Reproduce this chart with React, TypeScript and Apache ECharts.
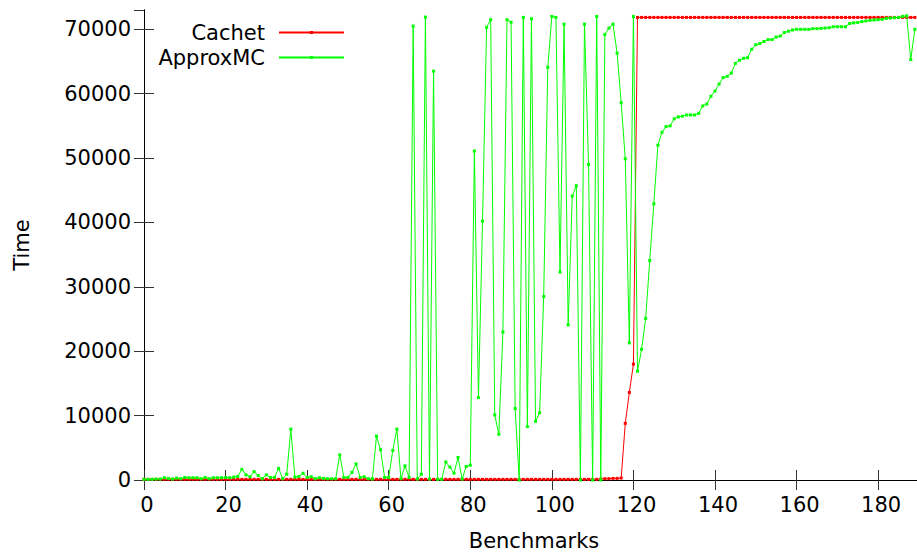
import React, { useEffect, useRef } from "react";
import * as echarts from "echarts";

const seriesNames = ["Cachet", "ApproxMC"];
const xTicks = [0, 20, 40, 60, 80, 100, 120, 140, 160, 180];
const yTicks = [0, 10000, 20000, 30000, 40000, 50000, 60000, 70000];

const cachet = [
  100, 100, 100, 100, 100, 100, 100, 100, 100, 100,
  100, 100, 100, 100, 100, 100, 100, 100, 100, 100,
  100, 100, 100, 100, 100, 100, 100, 100, 100, 100,
  100, 100, 100, 100, 100, 100, 100, 100, 100, 100,
  100, 100, 100, 100, 100, 100, 100, 100, 100, 100,
  100, 100, 100, 100, 100, 100, 100, 100, 100, 100,
  100, 100, 100, 100, 100, 100, 100, 100, 100, 100,
  100, 100, 100, 100, 100, 100, 100, 100, 100, 100,
  100, 100, 100, 100, 100, 100, 100, 100, 100, 100,
  100, 100, 100, 100, 100, 100, 100, 100, 100, 100,
  100, 100, 100, 100, 100, 100, 100, 100, 100, 100,
  100, 100, 150, 200, 200, 250, 250, 300, 8800, 13600,
  18000, 71850, 71850, 71850, 71850, 71850, 71850, 71850, 71850, 71850,
  71850, 71850, 71850, 71850, 71850, 71850, 71850, 71850, 71850, 71850,
  71850, 71850, 71850, 71850, 71850, 71850, 71850, 71850, 71850, 71850,
  71850, 71850, 71850, 71850, 71850, 71850, 71850, 71850, 71850, 71850,
  71850, 71850, 71850, 71850, 71850, 71850, 71850, 71850, 71850, 71850,
  71850, 71850, 71850, 71850, 71850, 71850, 71850, 71850, 71850, 71850,
  71850, 71850, 71850, 71850, 71850, 71850, 71850, 71850, 71850, 71850,
];

const approxMC = [
  100, 100, 100, 150, 150, 350, 250, 150, 300, 200,
  400, 350, 350, 350, 200, 400, 200, 350, 350, 350,
  400, 350, 450, 550, 1650, 800, 500, 1300, 700, 200,
  800, 400, 400, 1800, 200, 900, 7900, 450, 550, 1050,
  400, 500, 200, 350, 250, 200, 200, 200, 3900, 400,
  400, 1200, 2500, 400, 500, 200, 150, 6800, 4700, 400,
  400, 4600, 7900, 200, 2200, 400, 70500, 150, 900, 71900,
  150, 63500, 100, 100, 2800, 2000, 1050, 3500, 150, 2100,
  2300, 51100, 12800, 40200, 70300, 71500, 10100, 7100, 23000, 71500,
  71100, 11100, 0, 71850, 8300, 71650, 9100, 10450, 28500, 64100,
  72000, 71850, 32300, 70800, 24100, 44100, 45700, 0, 70800, 49000,
  0, 72000, 0, 69200, 70200, 70800, 66300, 58600, 49900, 21300,
  72000, 16900, 20300, 25100, 34100, 42900, 52000, 54000, 54900, 55000,
  56100, 56400, 56500, 56700, 56700, 56700, 56950, 58100, 58400, 59600,
  60400, 61500, 62500, 62700, 63200, 64700, 65200, 65500, 65600, 66900,
  67600, 67800, 68100, 68400, 68400, 68800, 68950, 69500, 69700, 69900,
  70000, 70000, 70000, 70000, 70100, 70100, 70150, 70200, 70250, 70400,
  70400, 70400, 70400, 70900, 71000, 71050, 71200, 71300, 71400, 71450,
  71500, 71550, 71700, 71750, 71800, 71850, 72000, 72100, 65300, 70000,
];

const FONT = "DejaVu Sans";
const FS = 21;
const CHART_W = 940;

export default function App() {
  const ref = useRef<HTMLDivElement>(null);
  useEffect(() => {
    if (!ref.current) return;
    const chart = echarts.init(ref.current, null, { renderer: "svg" });
    const toPairs = (arr: number[]) => arr.map((v, i) => [i, v]);
    const axisCommon = {
      type: "value" as const,
      axisLine: { show: true, lineStyle: { color: "#000", width: 1 } },
      axisTick: { show: true, inside: true, length: 10, lineStyle: { color: "#333", width: 1 } },
      splitLine: { show: false },
    };
    const legendText = { fontSize: FS, color: "#000", fontFamily: FONT, padding: [0, 9, 0, 0] };
    chart.setOption({
      animation: false,
      backgroundColor: "#fff",
      textStyle: { fontFamily: FONT },
      grid: { left: 144, top: 10, width: 779, height: 470, containLabel: false },
      legend: [
        {
          data: [seriesNames[0]],
          right: CHART_W - 345,
          top: 22,
          orient: "vertical",
          align: "right",
          padding: 0,
          itemWidth: 65,
          itemHeight: 4,
          textStyle: legendText,
        },
        {
          data: [seriesNames[1]],
          right: CHART_W - 345,
          top: 47,
          orient: "vertical",
          align: "right",
          padding: 0,
          itemWidth: 65,
          itemHeight: 4,
          textStyle: legendText,
        },
      ],
      xAxis: [
        {
          ...axisCommon,
          min: 0,
          max: 191,
          interval: 20,
          position: "bottom",
          axisLabel: {
            show: true,
            fontSize: FS,
            color: "#000",
            fontFamily: FONT,
            margin: 14,
            padding: [0, 0, 0, 6],
            showMaxLabel: false,
            formatter: (v: number) => (xTicks.includes(v) ? String(v) : ""),
          },
        },
        {
          ...axisCommon,
          min: 0,
          max: 191,
          interval: 20,
          position: "top",
          axisLabel: { show: false },
        },
      ],
      yAxis: [
        {
          ...axisCommon,
          min: 0,
          max: 73000,
          interval: 10000,
          position: "left",
          axisLabel: {
            show: true,
            fontSize: FS,
            color: "#000",
            fontFamily: FONT,
            margin: 13,
            showMaxLabel: false,
            formatter: (v: number) => (yTicks.includes(v) ? String(v) : ""),
          },
        },
        {
          ...axisCommon,
          min: 0,
          max: 73000,
          interval: 10000,
          position: "right",
          axisLabel: { show: false },
        },
      ],
      graphic: [
        {
          type: "text",
          x: 22,
          y: 245,
          rotation: Math.PI / 2,
          style: {
            text: "Time",
            fontSize: FS,
            fontFamily: FONT,
            fill: "#000",
            align: "center",
            verticalAlign: "middle",
          },
        },
        {
          type: "text",
          x: 534,
          y: 541,
          style: {
            text: "Benchmarks",
            fontSize: FS,
            fontFamily: FONT,
            fill: "#000",
            align: "center",
            verticalAlign: "middle",
          },
        },
      ],
      series: [
        {
          name: seriesNames[0],
          type: "line",
          data: toPairs(cachet),
          symbol: "rect",
          symbolSize: 3,
          showSymbol: true,
          lineStyle: { color: "#ff0000", width: 1 },
          itemStyle: { color: "#ff0000" },
          z: 2,
        },
        {
          name: seriesNames[1],
          type: "line",
          data: toPairs(approxMC),
          symbol: "rect",
          symbolSize: 3,
          showSymbol: true,
          lineStyle: { color: "#00ff00", width: 1 },
          itemStyle: { color: "#00ff00" },
          z: 3,
        },
      ],
    });
    return () => chart.dispose();
  }, []);
  return (
    <div
      ref={ref}
      style={{ position: "fixed", left: 0, top: 0, width: CHART_W, height: 552, background: "#fff" }}
    />
  );
}
